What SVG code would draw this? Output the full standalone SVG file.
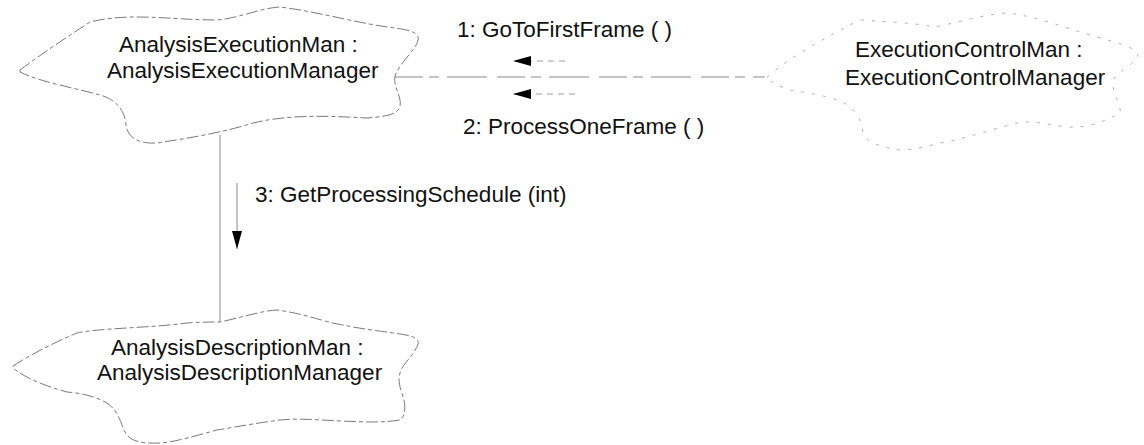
<svg xmlns="http://www.w3.org/2000/svg" width="1144" height="445" viewBox="0 0 1144 445">
<style>
.bg{fill:#ffffff}
.cloud{fill:none;stroke:#7a7a7a;stroke-width:1;stroke-dasharray:12 3 4 3}
.cloud.faint{stroke:#b0b0b0;stroke-dasharray:3 8}
.lbl{font-family:"Liberation Sans",Arial,sans-serif;font-size:22.5px;fill:#111}
.link{stroke:#8a8a8a;stroke-width:1;fill:none}
.link.broken{stroke-dasharray:28 6 10 8 40 10}
.msg{stroke:#8a8a8a;stroke-width:1;fill:none}
.msg.dotted{stroke:#a0a0a0;stroke-dasharray:6 5}
</style>
<defs>
<marker id="head" viewBox="0 0 18 10" refX="18" refY="5" markerWidth="18" markerHeight="10" markerUnits="userSpaceOnUse" orient="auto">
<path d="M0,0 L18,5 L0,10 Z" fill="#000"/>
</marker>
</defs>
<rect class="bg" x="0" y="0" width="1144" height="445"/>

<g id="connectors">
<line class="link broken" x1="395" y1="77" x2="765" y2="77"/>
<line class="link" x1="220" y1="135" x2="220" y2="322"/>
<line class="msg dotted" x1="565" y1="61" x2="513" y2="61" marker-end="url(#head)"/>
<line class="msg dotted" x1="575" y1="94" x2="513" y2="94" marker-end="url(#head)"/>
<line class="msg" x1="237" y1="183" x2="237" y2="249" marker-end="url(#head)"/>
<text class="lbl" x="457" y="37">1: GoToFirstFrame ( )</text>
<text class="lbl" x="463" y="134">2: ProcessOneFrame ( )</text>
<text class="lbl" x="255" y="202">3: GetProcessingSchedule (int)</text>
</g>

<g id="AnalysisExecutionMan">
<path class="cloud" d="M20,70 C40,55 70,35 90,22 C130,12 170,20 217,20 C240,18 260,8 280,7 C320,12 360,24 395,28 C410,30 420,33 418,40 C416,50 400,62 395,76 C393,88 402,96 400,106 C398,114 390,116 367,118 C330,116 290,114 253,123 C225,132 190,138 157,143 C135,144 128,136 126,125 C125,112 118,100 100,95 C75,88 40,82 20,72 Z"/>
<text class="lbl" x="119" y="52">AnalysisExecutionMan :</text>
<text class="lbl" x="107" y="78">AnalysisExecutionManager</text>
</g>

<g id="ExecutionControlMan">
<path class="cloud faint" d="M767,77 C785,62 810,45 860,20 C890,22 915,23 935,27 C960,22 985,14 1007,13 C1035,16 1060,26 1090,35 C1115,42 1138,48 1138,55 C1136,65 1114,72 1113,82 C1112,95 1122,105 1120,113 C1100,124 1085,128 1067,127 C1045,124 1030,120 1017,123 C990,130 960,140 940,143 C920,148 905,151 900,150 C870,145 864,140 862,128 C860,115 850,104 837,100 C820,94 800,92 790,90 C778,86 770,82 767,77 Z"/>
<text class="lbl" x="855" y="57">ExecutionControlMan :</text>
<text class="lbl" x="845" y="85">ExecutionControlManager</text>
</g>

<g id="AnalysisDescriptionMan">
<path class="cloud" d="M13,366 C30,355 55,342 77,333 C100,328 150,328 187,323 C200,322 212,322 220,322 C240,318 260,311 277,310 C300,313 320,320 333,323 C360,329 380,331 393,333 C408,335 420,337 418,344 C414,356 402,364 400,373 C397,383 402,392 404,400 C406,410 404,418 400,420 C380,423 367,422 340,421 C320,420 300,418 280,420 C250,424 230,428 217,430 C195,436 175,442 160,443 C138,444 128,440 124,430 C120,420 117,410 107,403 C95,396 80,393 67,392 C45,386 25,378 13,368 Z"/>
<text class="lbl" x="111" y="355">AnalysisDescriptionMan :</text>
<text class="lbl" x="97" y="380">AnalysisDescriptionManager</text>
</g>
</svg>
